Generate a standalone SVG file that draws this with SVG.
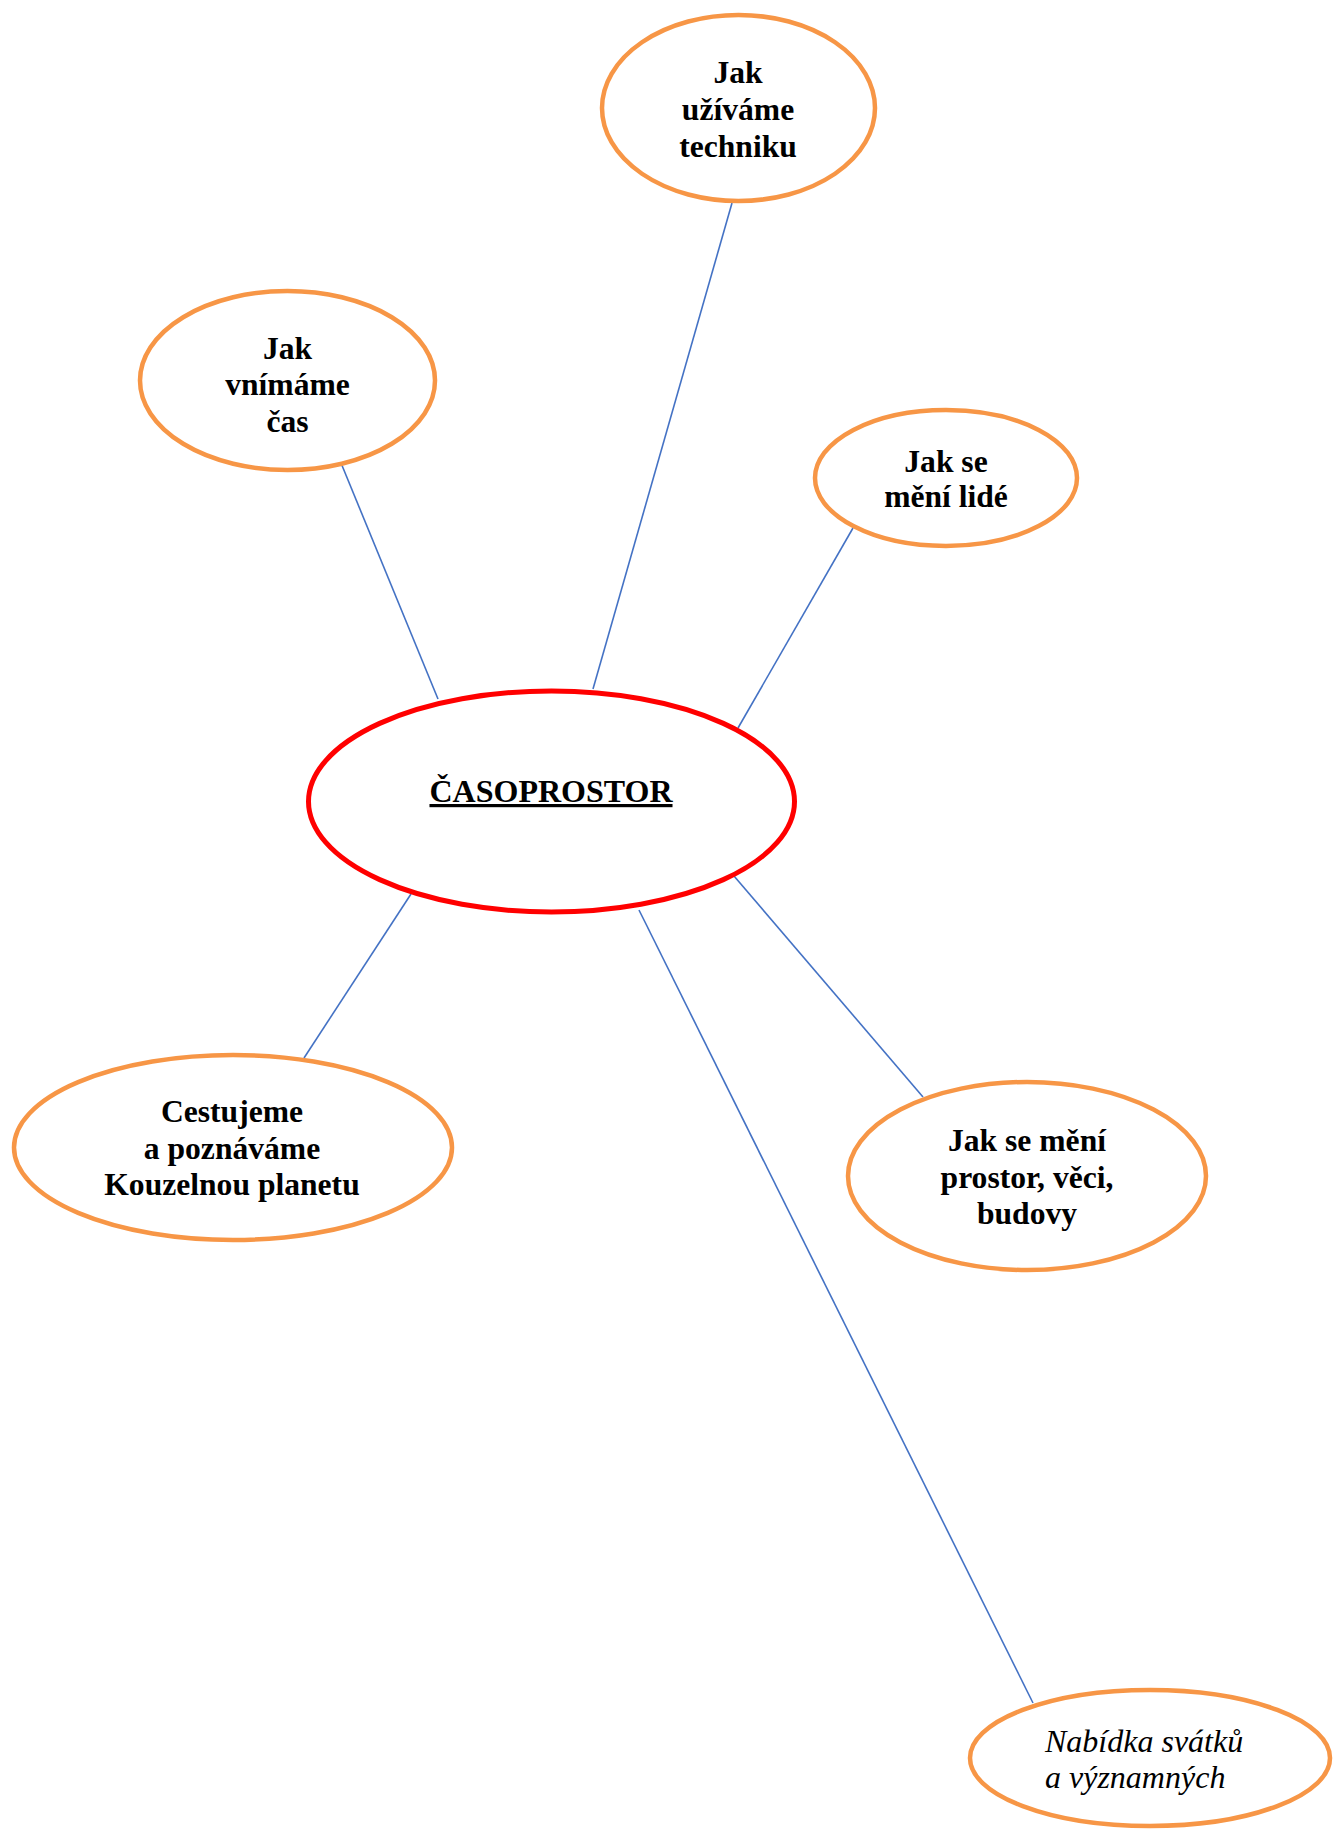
<svg xmlns="http://www.w3.org/2000/svg" width="1337" height="1830" viewBox="0 0 1337 1830">
<style>
.bg{fill:#fff}
.sub{fill:#fff;stroke:#F79646;stroke-width:4.5}
.main{fill:#fff;stroke:#FF0000;stroke-width:5}
.conn line{stroke:#4472C4;stroke-width:1.6}
.t{font-family:"Liberation Serif","Times New Roman",serif;font-weight:bold;font-size:31.6px;fill:#000;text-anchor:middle}
.ti{font-family:"Liberation Serif","Times New Roman",serif;font-style:italic;font-size:32px;fill:#000}
.tm{font-family:"Liberation Serif","Times New Roman",serif;font-weight:bold;font-size:32px;fill:#000;text-anchor:middle;text-decoration:underline}
</style>
<rect class="bg" x="0" y="0" width="1337" height="1830"/>
<g id="connectors" class="conn">
<line x1="341" y1="463" x2="438" y2="699"/>
<line x1="732" y1="203" x2="593" y2="689"/>
<line x1="853" y1="528" x2="738" y2="728"/>
<line x1="411" y1="894" x2="304" y2="1058"/>
<line x1="639" y1="910" x2="1033" y2="1703"/>
<line x1="734" y1="876" x2="923" y2="1097"/>
</g>
<g id="center">
<ellipse class="main" cx="551.5" cy="801.5" rx="243" ry="110.5"/>
<text class="tm" x="551" y="802">ČASOPROSTOR</text>
</g>
<g id="node-technika">
<ellipse class="sub" cx="738.5" cy="108" rx="136.5" ry="93"/>
<text class="t" x="738" y="83">Jak</text>
<text class="t" x="738" y="120">užíváme</text>
<text class="t" x="738" y="157">techniku</text>
</g>
<g id="node-cas">
<ellipse class="sub" cx="287.5" cy="380.5" rx="147.5" ry="89.5"/>
<text class="t" x="287.5" y="359">Jak</text>
<text class="t" x="287.5" y="395">vnímáme</text>
<text class="t" x="287.5" y="432">čas</text>
</g>
<g id="node-lide">
<ellipse class="sub" cx="946" cy="478" rx="131" ry="68"/>
<text class="t" x="946" y="472">Jak se</text>
<text class="t" x="946" y="507">mění lidé</text>
</g>
<g id="node-cestujeme">
<ellipse class="sub" cx="233" cy="1147.5" rx="219" ry="92.5"/>
<text class="t" x="232" y="1122">Cestujeme</text>
<text class="t" x="232" y="1159">a poznáváme</text>
<text class="t" x="232" y="1195">Kouzelnou planetu</text>
</g>
<g id="node-prostor">
<ellipse class="sub" cx="1027" cy="1176" rx="179" ry="94"/>
<text class="t" x="1027" y="1151">Jak se mění</text>
<text class="t" x="1027" y="1188">prostor, věci,</text>
<text class="t" x="1027" y="1224">budovy</text>
</g>
<g id="node-svatky">
<ellipse class="sub" cx="1150" cy="1758" rx="180" ry="68"/>
<text class="ti" x="1045" y="1752">Nabídka svátků</text>
<text class="ti" x="1045" y="1788">a významných</text>
</g>
</svg>
